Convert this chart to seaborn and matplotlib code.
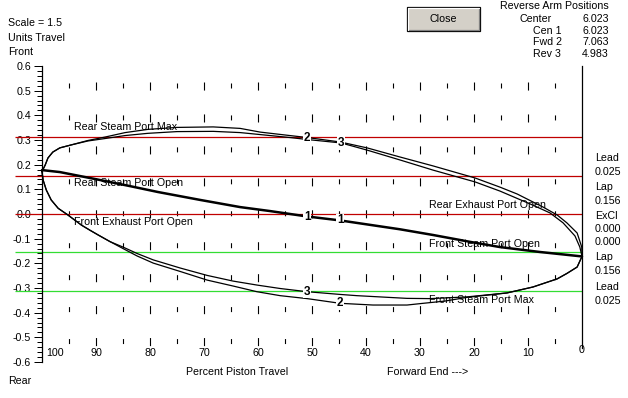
import matplotlib
matplotlib.use("Agg")
import matplotlib.pyplot as plt
import matplotlib.transforms as mtrans
from matplotlib.patches import Rectangle
from matplotlib.lines import Line2D
from matplotlib.ticker import FixedLocator, FormatStrFormatter
import seaborn as sns
import pandas as pd

# ---------------- data ----------------
port_levels = [0.3125, 0.156, 0.0, -0.156, -0.3125]
port_colors = ["#c00000", "#c00000", "#c00000", "#33dd33", "#33dd33"]

port_names = ["Rear Steam Port Max", "Rear Steam Port Open", "Front Exhaust Port Open",
              "Rear Exhaust Port Open", "Front Steam Port Open", "Front Steam Port Max"]
port_name_x = [94.1, 94.1, 94.1, 28.3, 28.3, 28.3]
port_name_y = [0.354, 0.127, -0.031, 0.036, -0.123, -0.349]

x_ticks = [100, 90, 80, 70, 60, 50, 40, 30, 20, 10, 0]
x_tick_labels = ["100", "90", "80", "70", "60", "50", "40", "30", "20", "10", "0"]
y_major = [-0.6, -0.5, -0.4, -0.3, -0.2, -0.1, 0.0, 0.1, 0.2, 0.3, 0.4, 0.5, 0.6]
y_minor = [round(-0.6 + 0.02 * i, 2) for i in range(61)]
grid_major_x = [90, 80, 70, 60, 50, 40, 30, 20, 10]
grid_minor_x = [95, 85, 75, 65, 55, 45, 35, 25, 15, 5]

# curve 1 (Cen 1)
cen1_x = [100, 96.7, 89.3, 83.7, 78.5, 70.7, 63.3, 57.8, 50.9, 44.8, 33.7, 27.6, 20.7, 15.2, 7.8, 0]
cen1_y = [0.178, 0.170, 0.138, 0.113, 0.089, 0.057, 0.028, 0.012, -0.010, -0.026, -0.062,
          -0.085, -0.113, -0.134, -0.154, -0.172]

# curve 2 (Fwd 2) - closed path, upper branch then lower branch
fwd2_x = [100, 99.4, 98.9, 98.0, 96.7, 94.6, 91.5, 88.3, 84.6, 80.4, 75.0, 68.3, 63.3, 59.6,
          54.1, 50.9, 44.8, 39.8, 33.7, 27.6, 19.8, 15.2, 12.0, 7.2, 4.6, 2.8, 0.9, 0.05, 0,
          0.9, 2.8, 4.6, 9.1, 13.9, 21.3, 25.4, 29.4, 32.4, 38.7, 44.8, 50.9, 55.9, 60.2, 64.6,
          69.4, 74.4, 79.4, 82.4, 85.0, 87.4, 89.6, 91.1, 92.7, 95.2, 97.0, 98.3, 99.2, 99.8, 100]
fwd2_y = [0.172, 0.199, 0.227, 0.251, 0.268, 0.280, 0.298, 0.312, 0.330, 0.343, 0.351, 0.353,
          0.347, 0.332, 0.318, 0.310, 0.292, 0.268, 0.231, 0.195, 0.146, 0.109, 0.081, 0.028,
          -0.004, -0.036, -0.077, -0.134, -0.172,
          -0.215, -0.241, -0.263, -0.296, -0.320, -0.338, -0.353, -0.362, -0.369, -0.369,
          -0.362, -0.343, -0.331, -0.315, -0.292, -0.268, -0.233, -0.199, -0.170, -0.140,
          -0.112, -0.085, -0.066, -0.045, -0.004, 0.023, 0.057, 0.097, 0.138, 0.172]

# curve 3 (Rev 3)
rev3_x = [100, 99.4, 98.9, 98.0, 96.7, 94.6, 91.5, 88.3, 84.6, 80.4, 75.0, 68.3, 63.3, 59.6,
          54.1, 50.9, 44.6, 39.8, 33.7, 27.6, 19.8, 15.2, 9.1, 5.9, 3.5, 1.3, 0.4, 0,
          0.9, 2.8, 4.6, 9.1, 13.9, 21.3, 28.1, 32.4, 41.7, 44.8, 50.9, 55.9, 60.2, 64.6,
          69.4, 74.4, 79.4, 82.4, 85.0, 87.4, 89.6, 91.1, 92.7, 95.2, 97.0, 98.3, 99.2, 99.8, 100]
rev3_y = [0.172, 0.199, 0.227, 0.251, 0.268, 0.280, 0.296, 0.306, 0.318, 0.327, 0.334, 0.335,
          0.330, 0.322, 0.310, 0.302, 0.288, 0.259, 0.219, 0.178, 0.130, 0.093, 0.036, 0.004,
          -0.036, -0.089, -0.134, -0.172,
          -0.215, -0.241, -0.263, -0.296, -0.320, -0.336, -0.343, -0.342, -0.331, -0.326,
          -0.315, -0.302, -0.288, -0.272, -0.249, -0.219, -0.186, -0.160, -0.134, -0.112,
          -0.085, -0.066, -0.045, -0.004, 0.023, 0.057, 0.097, 0.138, 0.172]

num_labels = ["1", "1", "2", "3", "3", "2"]
num_x = [50.9, 44.8, 50.9, 44.6, 50.9, 44.8]
num_y = [-0.012, -0.026, 0.310, 0.288, -0.315, -0.362]

arm_names = ["Center", "Cen 1", "Fwd 2", "Rev 3"]
arm_values = ["6.023", "6.023", "7.063", "4.983"]

right_labels = ["Lead", "0.025", "Lap", "0.156", "ExCl", "0.000", "0.000", "Lap", "0.156",
                "Lead", "0.025"]

# ---------------- style ----------------
sns.set_theme(style="white")
plt.rcParams["font.family"] = ["Liberation Sans", "DejaVu Sans"]
plt.rcParams["axes.unicode_minus"] = False
plt.rcParams["lines.scale_dashes"] = False
FS = 7.7

W, H = 628, 398
XL = ((582 - 0) / 5.4, (582 - W) / 5.4)
YL = ((214 - H) / 246.7, 214 / 246.7)

fig = plt.figure(figsize=(W / 100, H / 100), dpi=100)
fig.patch.set_facecolor("white")
ax = fig.add_axes([0, 0, 1, 1])
ax.set_facecolor("white")

# vertical dashed grid
for gx in grid_major_x:
    ax.plot([gx, gx], [0.535, -0.535], color="black", lw=0.8,
            ls=(0, (5.8, 17.2)), zorder=1)
for gx in grid_minor_x:
    ax.plot([gx, gx], [0.529, -0.535], color="black", lw=0.8,
            ls=(0, (3.6, 19.4)), zorder=1)

# port lines
ax.hlines(port_levels, 105, 0, colors=port_colors, lw=0.9, zorder=2)

# port names
for name, px_, py_ in zip(port_names, port_name_x, port_name_y):
    ax.text(px_, py_, name, fontsize=FS, ha="left", va="center", color="black", zorder=1.5)

# curves
df1 = pd.DataFrame({"x": cen1_x, "y": cen1_y})
df2 = pd.DataFrame({"x": fwd2_x, "y": fwd2_y})
df3 = pd.DataFrame({"x": rev3_x, "y": rev3_y})
sns.lineplot(data=df2, x="x", y="y", sort=False, estimator=None, color="black", lw=0.9, ax=ax, zorder=3)
sns.lineplot(data=df3, x="x", y="y", sort=False, estimator=None, color="black", lw=0.9, ax=ax, zorder=3)
sns.lineplot(data=df1, x="x", y="y", sort=False, estimator=None, color="black", lw=1.8, ax=ax, zorder=3)
ax.set_xlabel("")
ax.set_ylabel("")
ax.set_xlim(*XL)
ax.set_ylim(*YL)

# spines
ax.spines["top"].set_visible(False)
ax.spines["bottom"].set_visible(False)
ax.spines["left"].set_position(("data", 100))
ax.spines["left"].set_bounds(-0.6, 0.6)
ax.spines["right"].set_position(("data", 0))
ax.spines["right"].set_bounds(-0.545, 0.6)
ax.spines["bottom"].set_position(("data", -0.531))
for s in ["left", "right"]:
    ax.spines[s].set_visible(True)
    ax.spines[s].set_color("black")
    ax.spines[s].set_linewidth(0.9)

# y ticks
ax.yaxis.set_ticks_position("left")
ax.yaxis.set_major_locator(FixedLocator(y_major))
ax.yaxis.set_minor_locator(FixedLocator(y_minor))
ax.yaxis.set_major_formatter(FormatStrFormatter("%.1f"))
ax.tick_params(axis="y", which="major", direction="out", length=5.8, width=0.72,
               pad=2, labelsize=FS, colors="black", left=True)
ax.tick_params(axis="y", which="minor", direction="out", length=3.6, width=0.72, left=True,
               colors="black")

# x ticks
ax.set_xticks(x_ticks)
ax.set_xticklabels(x_tick_labels)
ax.tick_params(axis="x", which="both", length=0, pad=2, labelsize=FS, colors="black")
for lab in ax.get_xticklabels():
    if lab.get_text() == "100":
        lab.set_transform(lab.get_transform() + mtrans.ScaledTranslation(13 / 100, 0, fig.dpi_scale_trans))
    if lab.get_text() == "0":
        lab.set_transform(lab.get_transform() + mtrans.ScaledTranslation(0, 3 / 100, fig.dpi_scale_trans))
ax.grid(False)

# curve number labels
for s, lx, ly in zip(num_labels, num_x, num_y):
    ax.text(lx, ly, s, fontsize=8.5, fontweight="bold", ha="center", va="center", color="black",
            zorder=4, bbox=dict(boxstyle="square,pad=0.05", fc="white", ec="none"))


def ptext(px, py, s, **kw):
    kw.setdefault("fontsize", FS)
    kw.setdefault("va", "center")
    kw.setdefault("color", "black")
    fig.text(px / W, 1 - py / H, s, **kw)


# top-left
ptext(8, 23, "Scale = 1.5")
ptext(8, 38, "Units Travel")
ptext(8, 52, "Front")
ptext(8, 381, "Rear")
ptext(237, 372, "Percent Piston Travel", ha="center")
ptext(387, 372, "Forward End --->")

# Close button
bx0, by0, bx1, by1 = 407, 7, 480, 31
fig.patches.append(Rectangle((bx0 / W, 1 - by1 / H), (bx1 - bx0) / W, (by1 - by0) / H,
                             transform=fig.transFigure, fc="#d4d0c8", ec="black", lw=0.9))
fig.lines.append(Line2D([(bx0 + 1) / W, (bx0 + 1) / W, (bx1 - 1.5) / W],
                        [1 - (by1 - 1.5) / H, 1 - (by0 + 1) / H, 1 - (by0 + 1) / H],
                        transform=fig.transFigure, color="white", lw=0.9))
fig.lines.append(Line2D([(bx0 + 1.5) / W, (bx1 - 1.5) / W, (bx1 - 1.5) / W],
                        [1 - (by1 - 1.5) / H, 1 - (by1 - 1.5) / H, 1 - (by0 + 1.5) / H],
                        transform=fig.transFigure, color="#808080", lw=0.9))
ptext((bx0 + bx1) / 2, 19, "Close", ha="center")

# Reverse arm positions
ptext(500, 6, "Reverse Arm Positions")
arm_px = [520, 533, 533, 533]
arm_py = [19, 31, 42, 54]
for n, v, apx, apy in zip(arm_names, arm_values, arm_px, arm_py):
    ptext(apx, apy, n)
    ptext(609, apy, v, ha="right")

# right side labels
right_py = [158, 172, 187, 201, 216, 229, 242, 257, 271, 287, 301]
for s, rpy in zip(right_labels, right_py):
    ptext(595, rpy, s)

fig.savefig("out.png", dpi=100, facecolor="white")
